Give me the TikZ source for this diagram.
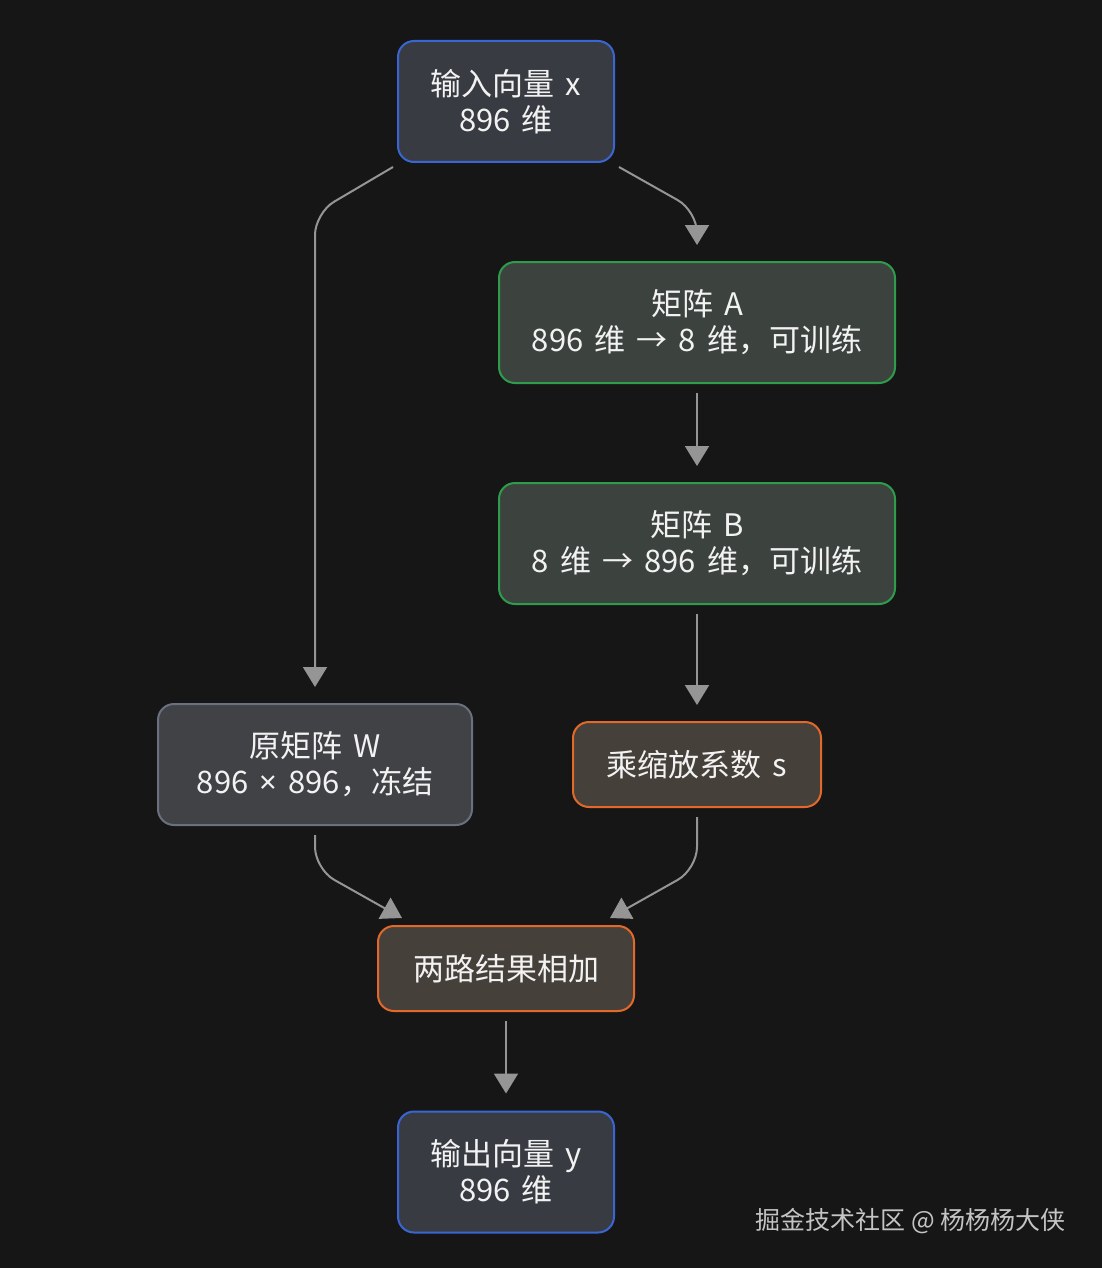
\documentclass[tikz,border=0pt]{standalone}
\usepackage{fontspec}
\setmainfont{Noto Sans CJK SC}[WordSpace=1.6]
\newfontfamily\wmfont{Noto Sans CJK SC}
\newfontfamily\latf{Noto Sans}
\usetikzlibrary{arrows.meta,calc}
\definecolor{bg}{HTML}{161616}
\definecolor{txt}{HTML}{F2F2F2}
\definecolor{conn}{HTML}{959595}
\definecolor{bluefill}{HTML}{383C42}
\definecolor{blueline}{HTML}{3A66D4}
\definecolor{greenfill}{HTML}{3C423E}
\definecolor{greenline}{HTML}{2F9C4C}
\definecolor{grayfill}{HTML}{404246}
\definecolor{grayline}{HTML}{6A7080}
\definecolor{orfill}{HTML}{46403A}
\definecolor{orline}{HTML}{E2692A}
\definecolor{wm}{HTML}{C4C4C4}
\newcommand{\tms}{{\latf ×}}
\begin{document}
\begin{tikzpicture}[x=1pt,y=-1pt,
  box/.style={rounded corners=16pt,line width=2pt,align=center,inner sep=0pt,
    text=txt,font=\fontsize{31}{36}\selectfont},
  bluebox/.style={box,draw=blueline,fill=bluefill,minimum width=216pt,minimum height=121pt},
  greenbox/.style={box,draw=greenline,fill=greenfill,minimum width=396pt,minimum height=121pt},
  graybox/.style={box,draw=grayline,fill=grayfill,minimum width=314pt,minimum height=121pt},
  orbox/.style={box,draw=orline,fill=orfill,minimum height=85pt},
  link/.style={draw=conn,line width=2pt,rounded corners=22pt,
    -{Triangle[width=24pt,length=20pt]}}]
\fill[bg] (0,0) rectangle (1102,1268);
\useasboundingbox (0,0) rectangle (1102,1268);

\node[bluebox] (in) at (506,101.5) {输入向量 x\\896 维};
\node[greenbox] (a) at (697,322.5) {矩阵 A\\896 维 → 8 维，可训练};
\node[greenbox] (b) at (697,543.5) {矩阵 B\\8 维 → 896 维，可训练};
\node[graybox] (w) at (315,764.5) {原矩阵 W\\896 \tms{} 896，冻结};
\node[orbox,minimum width=248pt] (s) at (697,764.5) {乘缩放系数 s};
\node[orbox,minimum width=256pt] (sum) at (506,968.5) {两路结果相加};
\node[bluebox] (out) at (506,1172) {输出向量 y\\896 维};

\node[text=wm,font=\wmfont\fontsize{25}{28}\selectfont,anchor=east] (wmk) at (1069,1221) {掘金技术社区 @ 杨杨杨大侠};

\draw[link] ([shift={(4,4)}]in.south east) -- ([yshift=50pt]a.north) -- ([yshift=16pt]a.north);
\draw[link] ([shift={(-4,4)}]in.south west) -- ($(w.north|-in.south)+(0,50)$) -- ([yshift=16pt]w.north);
\draw[link] ([yshift=-9pt]a.south) -- ([yshift=16pt]b.north);
\draw[link] ([yshift=-9pt]b.south) -- ([yshift=16pt]s.north);
\draw[link] ([yshift=-9pt]w.south) -- ($(w.south)+(0,43)$) -- ([shift={(25,-7)}]sum.north west);
\draw[link] ([yshift=-9pt]s.south) -- ($(s.south)+(0,61)$) -- ([shift={(-25,-7)}]sum.north east);
\draw[link] ([yshift=-9pt]sum.south) -- ([yshift=17pt]out.north);
\end{tikzpicture}
\end{document}
